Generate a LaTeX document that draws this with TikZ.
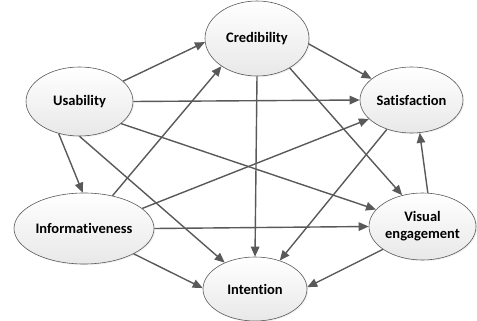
\documentclass[tikz,border=0pt]{standalone}
\usepackage{fontspec}
\setmainfont{Carlito}[Ligatures=CommonOff]
\usetikzlibrary{
    shapes,
    arrows.meta,
    shadows
}
\tikzset{
    construct/.style={ellipse, draw=black!65, line width=0.6pt, inner sep=0pt,
        top color=white, bottom color=black!9,
        drop shadow={opacity=0.12, shadow xshift=1.2pt, shadow yshift=-1.2pt},
        align=center, font=\fontsize{14.5}{17}\selectfont\bfseries},
    link/.style={draw=black!65, line width=1.4pt,
        -{Triangle[length=10pt,width=8.5pt]}}
}

\begin{document}
\begin{tikzpicture}[x=1pt, y=-1pt]
                                \useasboundingbox (0, 0) rectangle (477, 321);
                                \node[construct, minimum width=107, minimum height=69] (us) at (79.5, 101.5) {Usability};
                                \node[construct, minimum width=104, minimum height=75] (cr) at (257, 38.5) {Credibility};
                                \node[construct, minimum width=103, minimum height=66] (sa) at (411.5, 100) {Satisfaction};
                                \node[construct, minimum width=140, minimum height=71] (inf) at (84, 228.5) {Informativeness};
                                \node[construct, minimum width=104, minimum height=64] (int) at (255, 289) {Intention};
                                \node[construct, minimum width=107, minimum height=67] (ve) at (422.5, 226.5) {Visual\\engagement};

                                \draw
                                (us.25) edge[link] (cr.184)
                                (us.east) edge[link] (sa.west)
                                (us.-28) edge[link] (ve.160)
                                (us.237) edge[link] (inf.92)
                                (us.270) edge[link] (int.139)
                                (inf.49) edge[link] (cr.218)
                                (inf.19) edge[link] (sa.204)
                                (inf.east) edge[link] (ve.west)
                                (inf.-27) edge[link] (int.179)
                                (cr.-6) edge[link] (sa.152)
                                (cr.south) edge[link] (int.north)
                                (cr.-42) edge[link] (ve.123)
                                (sa.230) edge[link] (int.49)
                                (ve.81) edge[link] (sa.284)
                                (ve.210) edge[link] (int.2);
                            \end{tikzpicture}
\end{document}
